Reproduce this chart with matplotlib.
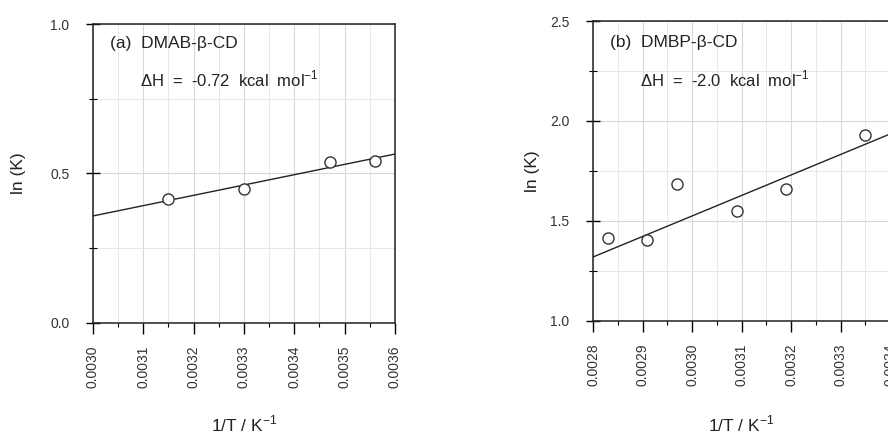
import matplotlib
matplotlib.use("Agg")
import matplotlib.pyplot as plt
from matplotlib.ticker import MultipleLocator, FormatStrFormatter

plt.rcParams['font.family'] = ['Liberation Sans', 'DejaVu Sans']

# (a) DMAB-beta-CD
xa = [0.00315, 0.00330, 0.00347, 0.00356]
ya = [0.415, 0.448, 0.537, 0.541]
fit_a_x = [0.0030, 0.0036]
fit_a_y = [0.358, 0.565]

# (b) DMBP-beta-CD
xb = [0.00283, 0.00291, 0.00297, 0.00309, 0.00319, 0.00335]
yb = [1.413, 1.405, 1.685, 1.552, 1.658, 1.930]
fit_b_x = [0.0028, 0.0034]
fit_b_y = [1.320, 1.935]

fig = plt.figure(figsize=(8.88, 4.34), dpi=100)
ax1 = fig.add_axes([0.1047, 0.2558, 0.3401, 0.6889])
ax2 = fig.add_axes([0.6678, 0.2604, 0.3345, 0.6912])

panels = [
    (ax1, xa, ya, fit_a_x, fit_a_y, (0.0030, 0.0036), (0.0, 1.0), 0.5, 0.25,
     "(a)  DMAB-\u03b2-CD", "\u0394H  =  -0.72  kcal  mol$^{\\mathregular{-1}}$",
     (0.056, 0.936), (0.156, 0.816), -0.222, -0.305),
    (ax2, xb, yb, fit_b_x, fit_b_y, (0.0028, 0.0034), (1.0, 2.5), 0.5, 0.25,
     "(b)  DMBP-\u03b2-CD", "\u0394H  =  -2.0  kcal  mol$^{\\mathregular{-1}}$",
     (0.056, 0.927), (0.157, 0.807), -0.18, -0.31),
]

for (ax, x, y, fx, fy, xl, yl, ymaj, ymin, t1, t2, p1, p2, ylx, xly) in panels:
    ax.plot(fx, fy, color="#222222", lw=1.0, zorder=3)
    ax.plot(x, y, "o", mfc="white", mec="#333333", ms=8, mew=1.0, zorder=4)
    ax.set_xlim(*xl)
    ax.set_ylim(*yl)
    ax.xaxis.set_major_locator(MultipleLocator(0.0001))
    ax.xaxis.set_minor_locator(MultipleLocator(0.00005))
    ax.yaxis.set_major_locator(MultipleLocator(ymaj))
    ax.yaxis.set_minor_locator(MultipleLocator(ymin))
    ax.xaxis.set_major_formatter(FormatStrFormatter("%.4f"))
    ax.yaxis.set_major_formatter(FormatStrFormatter("%.1f"))
    ax.grid(True, which="major", color="#d8d8d8", lw=0.8)
    ax.grid(True, which="minor", color="#e8e8e8", lw=0.7)
    ax.set_axisbelow(True)
    ax.tick_params(axis="x", which="major", direction="out", length=8, width=1,
                   labelsize=10, labelrotation=90, pad=8, labelcolor="#333333")
    ax.tick_params(axis="x", which="minor", direction="out", length=3, width=0.8)
    ax.tick_params(axis="y", which="major", direction="inout", length=10, width=1,
                   labelsize=10, pad=12, labelcolor="#333333")
    ax.tick_params(axis="y", which="minor", direction="inout", length=6, width=0.8)
    for s in ax.spines.values():
        s.set_linewidth(1.1)
        s.set_color("#222222")
    ax.text(p1[0], p1[1], t1, transform=ax.transAxes, fontsize=12.5,
            va="center", ha="left", color="#222222")
    ax.text(p2[0], p2[1], t2, transform=ax.transAxes, fontsize=12,
            va="center", ha="left", color="#222222")
    ax.set_ylabel("ln (K)", fontsize=12.5, color="#222222")
    ax.yaxis.set_label_coords(ylx, 0.5)
    ax.set_xlabel("1/T / K$^{\\mathregular{-1}}$", fontsize=12.5, color="#222222")
    ax.xaxis.set_label_coords(0.5, xly)

fig.savefig("out.png", dpi=100)
